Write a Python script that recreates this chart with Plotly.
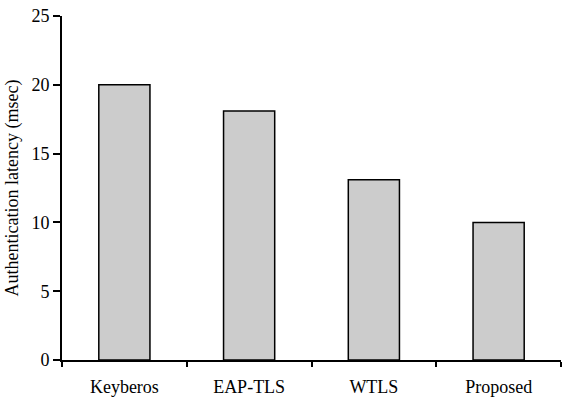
import plotly.graph_objects as go

categories = ["Keyberos", "EAP-TLS", "WTLS", "Proposed"]
latency = [20.0, 18.1, 13.1, 10.0]
y_ticks = [0, 5, 10, 15, 20, 25]

fig = go.Figure(go.Bar(
    x=categories, y=latency,
    marker=dict(color="#cccccc", line=dict(color="black", width=1.5)),
    width=0.41,
))

font = dict(family="Liberation Serif, Times New Roman, serif", size=18, color="black")
fig.update_layout(
    width=566, height=402,
    margin=dict(l=62, r=5, t=16, b=42),
    plot_bgcolor="white", paper_bgcolor="white",
    font=font, showlegend=False,
)
fig.update_xaxes(
    showline=True, linecolor="black", linewidth=2,
    ticks="outside", tickson="boundaries", ticklen=5, tickwidth=1.5, tickcolor="black",
    showgrid=False, tickfont=dict(size=18), automargin=False,
    ticklabelstandoff=9, ticklabeloverflow="allow",
)
fig.update_yaxes(
    range=[0, 25], tickvals=y_ticks,
    showline=True, linecolor="black", linewidth=2,
    ticks="outside", ticklen=7, tickwidth=1.5, tickcolor="black",
    showgrid=False, zeroline=False, automargin=False,
    ticklabeloverflow="allow",
    title=dict(text="Authentication latency (msec)", font=dict(size=18), standoff=8),
    tickfont=dict(size=18),
)
# remove the browser's default 8px body margin so the figure fills the window exactly
fig.write_html("out.html", config={"displayModeBar": False},
               post_script="document.body.style.margin='0';")
